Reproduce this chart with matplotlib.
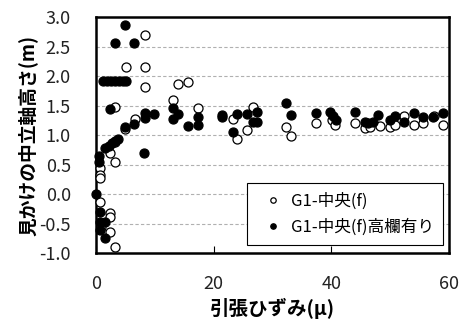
import matplotlib
matplotlib.use('Agg')
import matplotlib.pyplot as plt

plt.rcParams['font.family'] = ['Noto Sans CJK JP', 'DejaVu Sans']

#G1-中央(f) : open circles
open_x = [0.7, 0.7, 0.7, 0.7, 0.9, 2.4, 2.4, 2.4, 3.2, 2.4, 3.2, 3.2, 4.9, 6.6, 3.2,
          8.3, 5.1, 8.3, 8.3, 13.1, 14.0, 15.7, 17.4, 23.3, 24.0, 25.7, 26.7,
          32.3, 33.1, 37.4, 40.1, 40.6, 44.0, 45.7, 46.6, 48.3, 50.0, 50.8,
          52.4, 54.1, 55.6, 57.5, 59.0]
open_y = [0.44, 0.32, 0.27, -0.13, -0.56, -0.32, -0.38, -0.65, -0.90, 0.69, 0.55, 0.88, 1.10, 1.27, 1.47,
          1.81, 2.15, 2.15, 2.69, 1.59, 1.86, 1.90, 1.45, 1.28, 0.93, 1.08, 1.48,
          1.13, 0.99, 1.20, 1.25, 1.17, 1.20, 1.12, 1.14, 1.15, 1.14, 1.17,
          1.32, 1.17, 1.20, 1.32, 1.17]

#G1-中央(f)高欄有り : filled circles
fill_x = [0.0, 0.7, 0.7, 1.5, 0.7, 1.5, 0.6, 0.6, 1.5, 2.2, 2.7, 3.2, 3.7, 8.2,
          4.9, 6.5, 8.3, 8.3, 9.9, 2.4, 1.2, 1.9, 2.6, 3.3, 4.0, 4.6, 5.2,
          3.2, 6.5, 4.9, 13.1, 14.0, 13.1, 15.7, 17.4, 17.4, 21.4, 21.4, 24.0,
          23.3, 25.7, 27.4, 26.7, 27.4, 32.3, 33.1, 37.4, 39.8, 40.3, 40.8,
          44.0, 45.7, 46.2, 47.1, 47.9, 50.0, 50.8, 52.4, 54.1, 55.6, 57.3, 59.0]
fill_y = [0.00, -0.30, -0.47, -0.47, -0.61, -0.75, 0.64, 0.55, 0.78, 0.82, 0.86, 0.90, 0.93, 0.69,
          1.14, 1.19, 1.29, 1.37, 1.36, 1.44, 1.92, 1.92, 1.92, 1.92, 1.92, 1.92, 1.92,
          2.56, 2.56, 2.87, 1.46, 1.36, 1.27, 1.15, 1.31, 1.17, 1.34, 1.30, 1.36,
          1.05, 1.36, 1.39, 1.22, 1.22, 1.54, 1.34, 1.37, 1.39, 1.32, 1.25,
          1.39, 1.22, 1.20, 1.22, 1.34, 1.25, 1.32, 1.22, 1.37, 1.31, 1.30, 1.37]

x_ticks = [0, 20, 40, 60]
y_ticks = [-1.0, -0.5, 0.0, 0.5, 1.0, 1.5, 2.0, 2.5, 3.0]

fig = plt.figure(figsize=(4.65, 3.27), dpi=100)
ax = fig.add_axes([0.206, 0.226, 0.76, 0.722])

for y in y_ticks[1:-1]:
    ax.axhline(y, color='#b0b0b0', lw=0.8, ls=(0, (3, 2)), zorder=0)

ax.plot(open_x, open_y, 'o', mfc='white', mec='black', mew=0.9, ms=6.5,
        clip_on=False, label='G1-中央(f)', zorder=3)
ax.plot(fill_x, fill_y, 'o', mfc='black', mec='black', mew=0.9, ms=6.5,
        clip_on=False, label='G1-中央(f)高欄有り', zorder=4)

ax.set_xlim(0, 60)
ax.set_ylim(-1.0, 3.0)
ax.set_xticks(x_ticks)
ax.set_yticks(y_ticks)
ax.set_yticklabels(['%.1f' % v for v in y_ticks])

for s in ax.spines.values():
    s.set_linewidth(1.8)
ax.tick_params(axis='x', direction='in', length=5, width=0.8, pad=16, labelsize=13, labelcolor='#222222')
ax.tick_params(axis='y', direction='in', length=0, pad=18, labelsize=13, labelcolor='#222222')

ax.set_xlabel('引張ひずみ(μ)', fontsize=14, fontweight='bold', labelpad=3)
ax.set_ylabel('見かけの中立軸高さ(m)', fontsize=13.5, fontweight='bold', labelpad=1)

leg = ax.legend(loc='lower right', bbox_to_anchor=(0.983, 0.034), borderaxespad=0,
                fontsize=12, markerscale=0.6, handlelength=2.0, handletextpad=0.1,
                fancybox=False, framealpha=1, edgecolor='black', borderpad=0.55,
                labelspacing=0.55)
leg.get_frame().set_linewidth(0.8)

plt.savefig('out.png', dpi=100)
